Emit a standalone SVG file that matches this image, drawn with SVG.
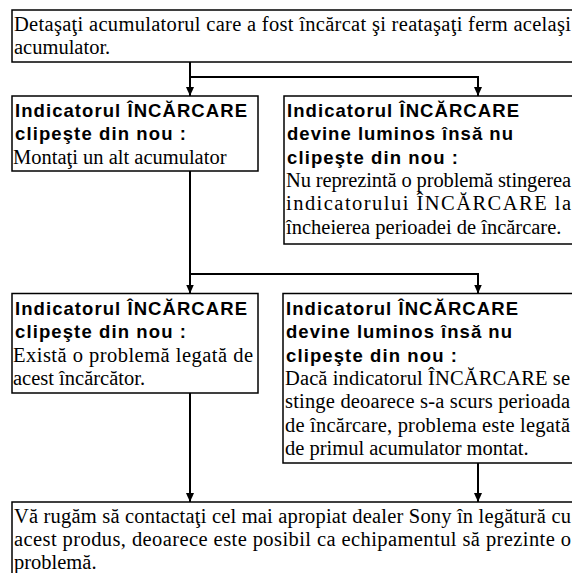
<svg xmlns="http://www.w3.org/2000/svg" width="572" height="573" viewBox="0 0 572 573">
<defs>
<style>
.box{fill:#fff;stroke:#000;stroke-width:1.5}
.h{font-family:"Liberation Sans",Arial,sans-serif;font-weight:bold;font-size:18.5px;fill:#000}
.t{font-family:"Liberation Serif","Times New Roman",serif;font-size:20.5px;fill:#000}
.c{fill:none;stroke:#000;stroke-width:2}
</style>
<marker id="a" markerUnits="userSpaceOnUse" markerWidth="9" markerHeight="8" refX="9" refY="4" orient="auto" viewBox="0 0 9 8">
<path d="M0,0 L9,4 L0,8 z" fill="#000"/>
</marker>
</defs>
<rect width="572" height="573" fill="#fff"/>
<g id="connectors">
<path class="c" d="M190,62 V96" marker-end="url(#a)"/>
<path class="c" d="M190,77 H478 V96" marker-end="url(#a)"/>
<path class="c" d="M190,171 V293.5" marker-end="url(#a)"/>
<path class="c" d="M190,274 H478 V293.5" marker-end="url(#a)"/>
<path class="c" d="M190,393 V502" marker-end="url(#a)"/>
<path class="c" d="M478,463 V502" marker-end="url(#a)"/>
</g>
<g id="start">
<rect class="box" x="12" y="10" width="570" height="52"/>
<text class="t" x="14" y="31" textLength="557" lengthAdjust="spacing">Detaşaţi acumulatorul care a fost încărcat şi reataşaţi ferm acelaşi</text>
<text class="t" x="14" y="54.3">acumulator.</text>
</g>
<g id="blink1">
<rect class="box" x="12" y="96" width="246" height="75"/>
<text class="h" x="15" y="117" textLength="232" lengthAdjust="spacing">Indicatorul ÎNCĂRCARE</text>
<text class="h" x="15" y="140.3" textLength="171" lengthAdjust="spacing">clipeşte din nou :</text>
<text class="t" x="13" y="163.6">Montaţi un alt acumulator</text>
</g>
<g id="lit1">
<rect class="box" x="284" y="96" width="300" height="148"/>
<text class="h" x="287" y="117" textLength="232" lengthAdjust="spacing">Indicatorul ÎNCĂRCARE</text>
<text class="h" x="287" y="140.3" textLength="226" lengthAdjust="spacing">devine luminos însă nu</text>
<text class="h" x="287" y="163.6" textLength="171" lengthAdjust="spacing">clipeşte din nou :</text>
<text class="t" x="286" y="187" textLength="285" lengthAdjust="spacing">Nu reprezintă o problemă stingerea</text>
<text class="t" x="286" y="210.3" textLength="285" lengthAdjust="spacing">indicatorului ÎNCĂRCARE la</text>
<text class="t" x="286" y="233.6">încheierea perioadei de încărcare.</text>
</g>
<g id="blink2">
<rect class="box" x="12" y="293.5" width="246" height="99.5"/>
<text class="h" x="15" y="315" textLength="232" lengthAdjust="spacing">Indicatorul ÎNCĂRCARE</text>
<text class="h" x="15" y="338.3" textLength="171" lengthAdjust="spacing">clipeşte din nou :</text>
<text class="t" x="13" y="361.6" textLength="240" lengthAdjust="spacing">Există o problemă legată de</text>
<text class="t" x="13" y="385">acest încărcător.</text>
</g>
<g id="lit2">
<rect class="box" x="283" y="293.5" width="300" height="169.5"/>
<text class="h" x="286" y="315" textLength="232" lengthAdjust="spacing">Indicatorul ÎNCĂRCARE</text>
<text class="h" x="286" y="338.3" textLength="226" lengthAdjust="spacing">devine luminos însă nu</text>
<text class="h" x="286" y="361.6" textLength="171" lengthAdjust="spacing">clipeşte din nou :</text>
<text class="t" x="285" y="385" textLength="285" lengthAdjust="spacing">Dacă indicatorul ÎNCĂRCARE se</text>
<text class="t" x="285" y="408.3" textLength="285" lengthAdjust="spacing">stinge deoarece s-a scurs perioada</text>
<text class="t" x="285" y="431.6" textLength="285" lengthAdjust="spacing">de încărcare, problema este legată</text>
<text class="t" x="285" y="455">de primul acumulator montat.</text>
</g>
<g id="contact">
<rect class="box" x="12" y="502" width="570" height="90"/>
<text class="t" x="14" y="522.5" textLength="557" lengthAdjust="spacing">Vă rugăm să contactaţi cel mai apropiat dealer Sony în legătură cu</text>
<text class="t" x="14" y="545.8" textLength="557" lengthAdjust="spacing">acest produs, deoarece este posibil ca echipamentul să prezinte o</text>
<text class="t" x="14" y="569">problemă.</text>
</g>
</svg>
